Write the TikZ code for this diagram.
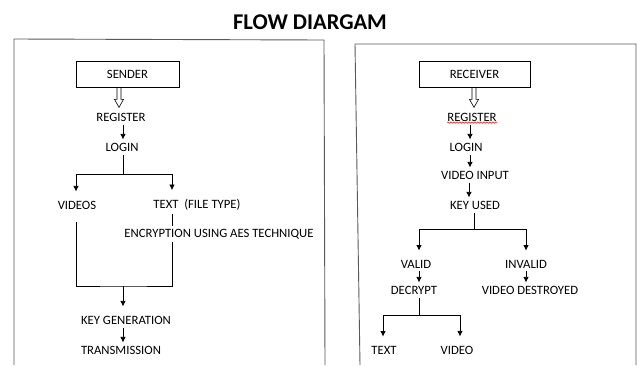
\documentclass[tikz,border=0pt]{standalone}
\usepackage{fontspec}
\setmainfont{Carlito}
\usetikzlibrary{arrows.meta}
\usetikzlibrary{decorations.pathmorphing}

\begin{document}
\begin{tikzpicture}[x=1pt,y=-1pt, line width=0.75pt,
    lbl/.style={font=\fontsize{12.7}{14}\selectfont, inner sep=3pt},
    box/.style={lbl, draw, minimum height=26pt},
    arr/.style={-{Latex[length=5.5pt,width=5.5pt]}},
    branch/.style={arr, shorten >=6pt},
    panel/.style={draw=black!65, line width=0.9pt}]
    \useasboundingbox (0,0) rectangle (637,365);
    \node[font=\bfseries\fontsize{22.5}{24}\selectfont] (title) at (310,22) {FLOW DIARGAM};
    % panels
    \draw[panel] (14,365) -- (14,39) -- (324,40) -- (325,365);
    \draw[panel] (360,365) -- (355,44) -- (636,44) -- (636,365);
    % sender side
    \node[box, minimum width=103pt] (sender) at (127.5,74) {SENDER};
    \node[lbl] (lreg) at (121,117) {REGISTER};
    \node[lbl] (llogin) at (122,147) {LOGIN};
    \node[lbl] (videos) at (77,205) {VIDEOS};
    \node[lbl, anchor=west] (ltext) at (150,205) {TEXT\ \ (FILE TYPE)};
    \node[lbl] (aes) at (219,234) {ENCRYPTION USING AES TECHNIQUE};
    \node[lbl] (keygen) at (126,320) {KEY GENERATION};
    \node[lbl] (trans) at (121,350) {TRANSMISSION};
    \coordinate (lsplit) at (123,174);
    \coordinate (lvid) at (76,174);
    \coordinate (ltxt) at (172,174);
    \coordinate (ljoin) at (123,286);
    \draw[line width=0.6pt] (sender.south -| 119,0) ++(-2,0) -- ++(0,12) -- ++(-2.5,0) -- ++(4.5,8)
        -- ++(4.5,-8) -- ++(-2.5,0) -- ++(0,-12);
    \draw[arr] (lreg.south -| lsplit) -- (lsplit |- llogin.north);
    \draw (llogin.south -| lsplit) -- (lsplit);
    \draw (lvid) -- (ltxt);
    \draw[branch] (lvid) -- (lvid |- videos.north);
    \draw[branch] (ltxt) -- (ltxt |- ltext.north);
    \draw (ltext.south -| ltxt) -- (aes.north -| ltxt);
    \draw (lvid |- videos.south) ++(0,9) |- (ljoin) -| (aes.south -| ltxt);
    \draw[branch] (ljoin) -- (ljoin |- keygen.north);
    \draw[arr] (keygen.south -| ljoin) -- (ljoin |- trans.north);
    % receiver side
    \node[box, minimum width=111pt] (receiver) at (474.5,74) {RECEIVER};
    \node[lbl] (rreg) at (472,117) {REGISTER};
    \node[lbl] (rlogin) at (466,147) {LOGIN};
    \node[lbl] (vinput) at (475,175) {VIDEO INPUT};
    \node[lbl] (keyused) at (475,205) {KEY USED};
    \node[lbl] (valid) at (416,264) {VALID};
    \node[lbl] (invalid) at (526,264) {INVALID};
    \node[lbl] (decrypt) at (414,290) {DECRYPT};
    \node[lbl] (destroyed) at (530,290) {VIDEO DESTROYED};
    \node[lbl] (rtext) at (384,350) {TEXT};
    \node[lbl] (rvideo) at (457,350) {VIDEO};
    \coordinate (rsplit) at (474,229);
    \coordinate (rvl) at (419,229);
    \coordinate (rvr) at (526,229);
    \coordinate (dsplit) at (419,315);
    \coordinate (dl) at (383,315);
    \coordinate (dr) at (460,315);
    \draw[line width=0.6pt] (receiver.south -| 474,0) ++(-2,0) -- ++(0,12) -- ++(-2.5,0) -- ++(4.5,8)
        -- ++(4.5,-8) -- ++(-2.5,0) -- ++(0,-12);
    \draw[red, line width=0.5pt, decorate, decoration={snake, amplitude=0.7pt, segment length=3pt}]
        ([xshift=3pt,yshift=2pt]rreg.south west) -- ([xshift=-3pt,yshift=2pt]rreg.south east);
    \draw[arr] (rreg.south -| 470,0) -- (rlogin.north -| 470,0);
    \draw[arr] (rlogin.south -| 470,0) -- (vinput.north -| 470,0);
    \draw[arr] (vinput.south -| 469,0) -- (keyused.north -| 469,0);
    \draw (keyused.south -| rsplit) -- (rsplit);
    \draw (rvl) -- (rvr);
    \draw[branch] (rvl) -- (rvl |- valid.north);
    \draw[branch] (rvr) -- (rvr |- invalid.north);
    \draw[arr] (valid.south -| rvl) -- (rvl |- decrypt.north);
    \draw[arr] (invalid.south -| rvr) -- (rvr |- destroyed.north);
    \draw (decrypt.south -| dsplit) -- (dsplit);
    \draw (dl) -- (dr);
    \draw[branch] (dl) -- (dl |- rtext.north);
    \draw[branch] (dr) -- (dr |- rvideo.north);
\end{tikzpicture}
\end{document}
